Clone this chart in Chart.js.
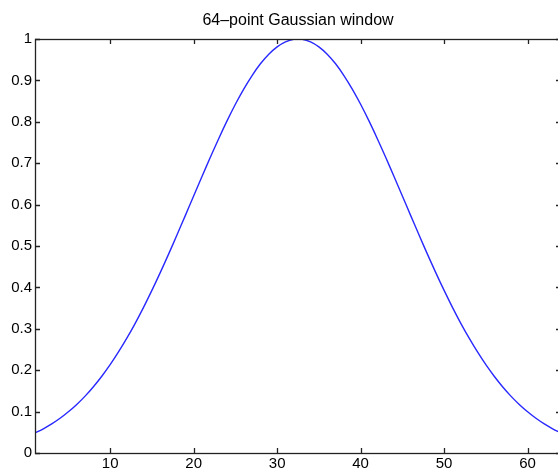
<!DOCTYPE html>
<html>
<head>
<meta charset="utf-8">
<script src="https://cdn.jsdelivr.net/npm/chart.js@4/dist/chart.umd.min.js"></script>
<style>
  html, body { margin: 0; padding: 0; background: #fff; overflow: hidden; }
  #wrap { width: 566px; height: 471px; }
</style>
</head>
<body>
<div id="wrap"><canvas id="gaussChart" width="566" height="471"></canvas></div>
<script>
// sample index (x axis)
var sampleIndex = [1, 2, 3, 4, 5, 6, 7, 8, 9, 10, 11, 12, 13, 14, 15, 16,
                   17, 18, 19, 20, 21, 22, 23, 24, 25, 26, 27, 28, 29, 30, 31, 32,
                   33, 34, 35, 36, 37, 38, 39, 40, 41, 42, 43, 44, 45, 46, 47, 48,
                   49, 50, 51, 52, 53, 54, 55, 56, 57, 58, 59, 60, 61, 62, 63, 64];

// window amplitude
var windowValues = [0.0484, 0.0585, 0.0702, 0.0838, 0.0995, 0.1173, 0.1374, 0.1601,
                    0.1854, 0.2133, 0.2440, 0.2773, 0.3133, 0.3519, 0.3927, 0.4357,
                    0.4804, 0.5264, 0.5734, 0.6207, 0.6679, 0.7143, 0.7592, 0.8021,
                    0.8423, 0.8790, 0.9118, 0.9401, 0.9633, 0.9811, 0.9932, 0.9992,
                    0.9992, 0.9932, 0.9811, 0.9633, 0.9401, 0.9118, 0.8790, 0.8423,
                    0.8021, 0.7592, 0.7143, 0.6679, 0.6207, 0.5734, 0.5264, 0.4804,
                    0.4357, 0.3927, 0.3519, 0.3133, 0.2773, 0.2440, 0.2133, 0.1854,
                    0.1601, 0.1374, 0.1173, 0.0995, 0.0838, 0.0702, 0.0585, 0.0484];

var xTicks = [10, 20, 30, 40, 50, 60];
var yTicks = [0, 0.1, 0.2, 0.3, 0.4, 0.5, 0.6, 0.7, 0.8, 0.9, 1];
var titleText = '64\u2013point Gaussian window';

var points = sampleIndex.map(function (x, i) { return { x: x, y: windowValues[i] }; });

var fontFamily = 'Liberation Sans, Arial, sans-serif';

// matlab style box with ticks pointing inward, title centred over the axes
var boxPlugin = {
    id: 'matlabBox',
    afterDraw: function (chart) {
        var c = chart.ctx, a = chart.chartArea;
        var xs = chart.scales.x, ys = chart.scales.y;
        var len = 5;
        c.save();
        c.strokeStyle = '#222';
        c.lineWidth = 1.3;
        c.strokeRect(Math.round(a.left) + 0.5, Math.round(a.top) + 0.5,
                     Math.round(a.right - a.left), Math.round(a.bottom - a.top));
        c.beginPath();
        xTicks.forEach(function (v) {
            var px = Math.round(xs.getPixelForValue(v)) + 0.5;
            c.moveTo(px, a.bottom); c.lineTo(px, a.bottom - len);
            c.moveTo(px, a.top); c.lineTo(px, a.top + len);
        });
        yTicks.forEach(function (v) {
            var py = Math.round(ys.getPixelForValue(v)) + 0.5;
            c.moveTo(a.left, py); c.lineTo(a.left + len, py);
            c.moveTo(a.right, py); c.lineTo(a.right - len, py);
        });
        c.stroke();

        c.fillStyle = '#000';
        c.font = '16px ' + fontFamily;
        c.textAlign = 'center';
        c.textBaseline = 'middle';
        c.fillText(titleText, (a.left + a.right) / 2, 21);
        c.restore();
    }
};

var ctx = document.getElementById('gaussChart').getContext('2d');

var myChart = new Chart(ctx, {
    type: 'line',
    data: {
        datasets: [{
            data: points,
            borderColor: 'rgb(40, 40, 255)',
            borderWidth: 1.4,
            pointRadius: 0,
            fill: false,
            tension: 0.3
        }]
    },
    options: {
        responsive: false,
        animation: false,
        layout: { padding: { left: 0, right: 5, top: 39, bottom: 0 } },
        plugins: {
            legend: { display: false },
            tooltip: { enabled: false },
            title: { display: false }
        },
        scales: {
            x: {
                type: 'linear',
                min: 1,
                max: 64,
                afterBuildTicks: function (s) { s.ticks = xTicks.map(function (v) { return { value: v }; }); },
                afterFit: function (s) { s.height = 18; },
                grid: { display: false, drawTicks: false },
                border: { display: false },
                ticks: {
                    color: '#000',
                    padding: 2,
                    maxRotation: 0,
                    font: { family: fontFamily, size: 15 }
                }
            },
            y: {
                min: 0,
                max: 1,
                afterBuildTicks: function (s) { s.ticks = yTicks.map(function (v) { return { value: v }; }); },
                afterFit: function (s) { s.width = 35; },
                grid: { display: false, drawTicks: false },
                border: { display: false },
                ticks: {
                    color: '#000',
                    padding: 3,
                    font: { family: fontFamily, size: 15 },
                    callback: function (v) { return String(v); }
                }
            }
        }
    },
    plugins: [boxPlugin]
});
</script>
</body>
</html>
